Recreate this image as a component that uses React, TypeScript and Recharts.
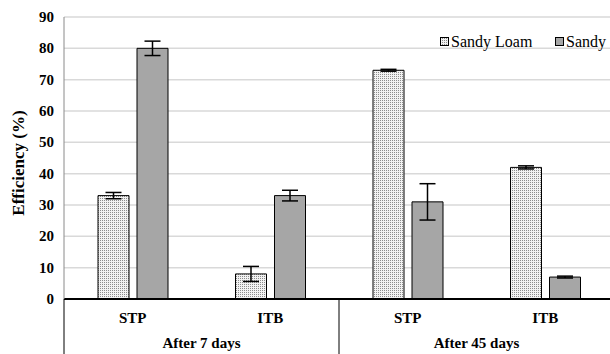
import { Bar, BarChart, CartesianGrid, ErrorBar, XAxis, YAxis } from "recharts"

const categories = ["STP", "ITB", "STP", "ITB"]
const groups = ["After 7 days", "", "After 45 days", ""]
const sandyLoam = [33, 8, 73, 42]
const sandyLoamErr = [1, 2.4, 0.3, 0.5]
const sandy = [80, 33, 31, 7]
const sandyErr = [2.3, 1.7, 5.8, 0.3]
const yTicks = [0, 10, 20, 30, 40, 50, 60, 70, 80, 90]
const seriesNames = ["Sandy Loam", "Sandy"]

const data = categories.map((c, i) => ({
  category: c,
  group: groups[i],
  sandyLoam: sandyLoam[i],
  sandyLoamErr: sandyLoamErr[i],
  sandy: sandy[i],
  sandyErr: sandyErr[i],
}))

const font = "Liberation Serif"
const BAND = 137.5

const CategoryTick = (props: any) => {
  const { x, y, payload, index } = props
  const grp = groups[index]
  return (
    <g>
      <text x={x} y={y + 24} textAnchor="middle" fontFamily={font} fontWeight="bold" fontSize={15} fill="#000">
        {payload.value}
      </text>
      {grp && (
        <>
          <line x1={x - BAND / 2} x2={x - BAND / 2} y1={y} y2={y + 60} stroke="#000" strokeWidth={1} />
          <text x={x + BAND / 2} y={y + 49} textAnchor="middle" fontFamily={font} fontWeight="bold" fontSize={15} fill="#000">
            {grp}
          </text>
        </>
      )}
      {index === categories.length - 1 && (
        <line x1={x + BAND / 2} x2={x + BAND / 2} y1={y} y2={y + 60} stroke="#000" strokeWidth={1} />
      )}
    </g>
  )
}

const ValueTick = (props: any) => {
  const { x, y, payload } = props
  return (
    <text x={x} y={y + 5} textAnchor="end" fontFamily={font} fontWeight="bold" fontSize={15} fill="#000">
      {payload.value}
    </text>
  )
}

const YLabel = (props: any) => {
  const { viewBox } = props
  const cx = 18
  const cy = viewBox.y + viewBox.height / 2 + 5
  return (
    <text
      x={cx}
      y={cy}
      transform={`rotate(-90 ${cx} ${cy})`}
      textAnchor="middle"
      dominantBaseline="central"
      fontFamily={font}
      fontWeight="bold"
      fontSize={17}
      fill="#000"
    >
      Efficiency (%)
    </text>
  )
}

const DotPattern = ({ id }: { id: string }) => (
  <pattern id={id} width={2} height={2} patternUnits="userSpaceOnUse">
    <rect width={2} height={2} fill="#f2f2f2" />
    <rect width={1} height={1} fill="#8c8c8c" />
  </pattern>
)

const legendX = [440, 555]

const LegendBox = () => (
  <svg width={180} height={24} style={{ position: "absolute", left: 430, top: 30 }}>
    <defs>
      <DotPattern id="legendDots" />
    </defs>
    {seriesNames.map((name, i) => (
      <g key={name}>
        <rect
          x={legendX[i] - 430 + 0.5}
          y={7.5}
          width={8}
          height={8}
          fill={i === 0 ? "url(#legendDots)" : "#a6a6a6"}
          stroke="#000"
        />
        <text x={legendX[i] - 430 + 11} y={17} fontFamily={font} fontSize={16} fill="#000">
          {name}
        </text>
      </g>
    ))}
  </svg>
)

export default function App() {
  return (
    <div style={{ position: "absolute", left: 0, top: 0, width: 610, height: 354, overflow: "hidden", background: "#fff" }}>
      <BarChart
        width={620}
        height={354}
        data={data}
        margin={{ top: 17, right: 6, left: 0, bottom: 0 }}
        barGap={8}
        barSize={31}
      >
        <defs>
          <DotPattern id="dots" />
        </defs>
        <CartesianGrid vertical={false} stroke="#d9d9d9" strokeWidth={1.5} />
        <XAxis
          dataKey="category"
          height={55}
          tickLine={false}
          tickSize={0}
          tickMargin={0}
          axisLine={{ stroke: "#000", strokeWidth: 2 }}
          tick={<CategoryTick />}
          interval={0}
        />
        <YAxis
          width={64}
          domain={[0, 90]}
          ticks={yTicks}
          tickLine={false}
          tickSize={0}
          tickMargin={10}
          axisLine={{ stroke: "#8a8a8a" }}
          tick={<ValueTick />}
          label={<YLabel />}
        />
        <Bar dataKey="sandyLoam" name={seriesNames[0]} fill="url(#dots)" stroke="#000" strokeWidth={1} isAnimationActive={false}>
          <ErrorBar dataKey="sandyLoamErr" width={8} stroke="#000" strokeWidth={1.5} />
        </Bar>
        <Bar dataKey="sandy" name={seriesNames[1]} fill="#a6a6a6" stroke="#000" strokeWidth={1} isAnimationActive={false}>
          <ErrorBar dataKey="sandyErr" width={8} stroke="#000" strokeWidth={1.5} />
        </Bar>
      </BarChart>
      <LegendBox />
    </div>
  )
}
